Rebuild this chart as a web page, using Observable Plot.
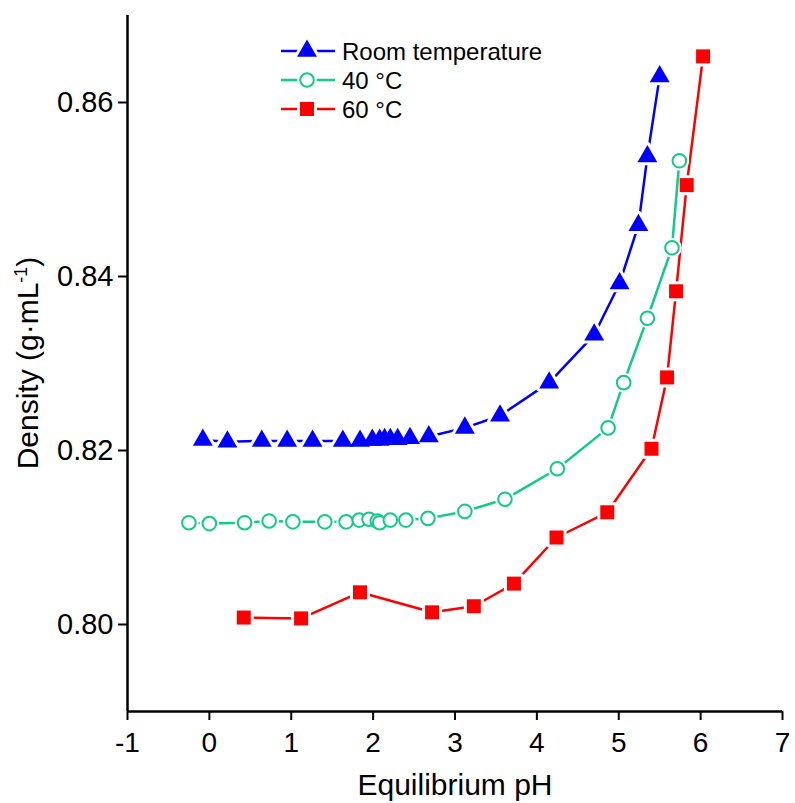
<!DOCTYPE html>
<html>
<head>
<meta charset="utf-8">
<script src="https://cdn.jsdelivr.net/npm/d3@7"></script>
<script src="https://cdn.jsdelivr.net/npm/@observablehq/plot@0.6"></script>
<style>
  html, body { margin: 0; padding: 0; background: #fff; }
  #chart svg { display: block; }
</style>
</head>
<body>
<div id="chart"></div>
<script>
// ---- Data ----
const seriesNames = ["Room temperature", "40 °C", "60 °C"];

const roomPH = [-0.08, 0.22, 0.64, 0.95, 1.26, 1.63, 1.84, 1.99, 2.08, 2.14, 2.21, 2.30, 2.45, 2.68, 3.12, 3.55, 4.15, 4.70, 5.01, 5.24, 5.35, 5.50];
const roomD  = [0.8212, 0.8210, 0.8211, 0.8211, 0.8211, 0.8211, 0.8211, 0.8212, 0.8212, 0.8213, 0.8213, 0.8213, 0.8214, 0.8216, 0.8226, 0.8240, 0.8278, 0.8333, 0.8392, 0.8459, 0.8538, 0.8630];

const c40PH = [-0.25, 0.00, 0.43, 0.73, 1.02, 1.41, 1.67, 1.83, 1.95, 2.05, 2.08, 2.21, 2.40, 2.67, 3.12, 3.61, 4.25, 4.87, 5.06, 5.35, 5.65, 5.74];
const c40D  = [0.8117, 0.8116, 0.8117, 0.8119, 0.8118, 0.8118, 0.8118, 0.8120, 0.8121, 0.8119, 0.8117, 0.8120, 0.8120, 0.8122, 0.8130, 0.8144, 0.8179, 0.8226, 0.8278, 0.8352, 0.8433, 0.8533];

const c60PH = [0.42, 1.12, 1.84, 2.72, 3.23, 3.72, 4.24, 4.86, 5.40, 5.59, 5.70, 5.83, 6.03];
const c60D  = [0.8008, 0.8007, 0.8037, 0.8014, 0.8021, 0.8047, 0.8100, 0.8129, 0.8202, 0.8284, 0.8383, 0.8505, 0.8653];

const xTicks = [-1, 0, 1, 2, 3, 4, 5, 6, 7];
const yTicks = [0.80, 0.82, 0.84, 0.86];
const xDomain = [-1, 7];
const yDomain = [0.79, 0.87];

// ---- Styling ----
const FONT = "'Liberation Sans', Arial, Helvetica, sans-serif";
const BLUE = "#0000ff", GREEN = "#10cc88", RED = "#ff0000";
const LINE_W = 2.5;

const toRows = (xs, ys) => xs.map((x, i) => ({pH: x, d: ys[i]}));
const room = toRows(roomPH, roomD);
const c40 = toRows(c40PH, c40D);
const c60 = toRows(c60PH, c60D);

const R_TRI = 7.4, R_CIR = 6.8, R_SQ = 7.9;

function seriesMarks(data, color, symbol, r, open) {
  return [
    Plot.line(data, {x: "pH", y: "d", stroke: color, strokeWidth: LINE_W}),
    Plot.dot(data, {x: "pH", y: "d", symbol, r, fill: "white", stroke: "white", strokeWidth: 6, strokeLinejoin: "round"}),
    open
      ? Plot.dot(data, {x: "pH", y: "d", symbol, r, fill: "white", stroke: color, strokeWidth: 2})
      : Plot.dot(data, {x: "pH", y: "d", symbol, r, fill: color, stroke: "none"})
  ];
}

const plot = Plot.plot({
  width: 795,
  height: 803,
  marginLeft: 127,
  marginRight: 13,
  marginTop: 15,
  marginBottom: 92,
  style: {fontFamily: FONT, background: "white", color: "black"},
  x: {domain: xDomain, label: null},
  y: {domain: yDomain, label: null},
  marks: [
    Plot.axisX({ticks: xTicks, tickFormat: d => String(d), tickSize: 9, tickPadding: 12, fontSize: 28, strokeWidth: 2, label: null}),
    Plot.axisY({ticks: yTicks, tickFormat: d3.format(".2f"), tickSize: 9, tickPadding: 5, fontSize: 29, strokeWidth: 2, label: null}),
    ...seriesMarks(c60, RED, "square", R_SQ, false),
    ...seriesMarks(c40, GREEN, "circle", R_CIR, true),
    ...seriesMarks(room, BLUE, "triangle", R_TRI, false),
    Plot.ruleX([xDomain[0]], {stroke: "black", strokeWidth: 2.5}),
    Plot.ruleY([yDomain[0]], {stroke: "black", strokeWidth: 2.5})
  ]
});

document.getElementById("chart").appendChild(plot);

// ---- Axis titles and legend ----
const svg = d3.select(plot);
const ys = plot.scale("y");
const yMid = (ys.range[0] + ys.range[1]) / 2;

svg.append("text")
  .attr("x", 455).attr("y", 795)
  .attr("text-anchor", "middle")
  .attr("font-family", FONT).attr("font-size", 30).attr("fill", "black")
  .text("Equilibrium pH");

const yl = svg.append("text")
  .attr("transform", `translate(38, ${yMid}) rotate(-90)`)
  .attr("text-anchor", "middle")
  .attr("font-family", FONT).attr("font-size", 30).attr("fill", "black");
yl.append("tspan").text("Density (g·mL");
yl.append("tspan").attr("dy", -11).attr("font-size", 18).text("-1");
yl.append("tspan").attr("dy", 11).text(")");

const legend = [
  {name: seriesNames[0], color: BLUE, sym: d3.symbolTriangle, r: R_TRI, open: false},
  {name: seriesNames[1], color: GREEN, sym: d3.symbolCircle, r: R_CIR, open: true},
  {name: seriesNames[2], color: RED, sym: d3.symbolSquare, r: R_SQ, open: false}
];
const lg = svg.append("g").attr("text-anchor", "start");
legend.forEach((item, i) => {
  const cy = 51 + i * 29;
  lg.append("line").attr("x1", 281).attr("x2", 335).attr("y1", cy).attr("y2", cy)
    .attr("stroke", item.color).attr("stroke-width", LINE_W);
  const path = d3.symbol(item.sym, Math.PI * item.r * item.r)();
  lg.append("path").attr("d", path).attr("transform", `translate(307,${cy})`)
    .attr("fill", "white").attr("stroke", "white").attr("stroke-width", 6).attr("stroke-linejoin", "round");
  lg.append("path").attr("d", path).attr("transform", `translate(307,${cy})`)
    .attr("fill", item.open ? "white" : item.color)
    .attr("stroke", item.open ? item.color : "none").attr("stroke-width", 2);
  lg.append("text").attr("x", 342).attr("y", cy + 8.5)
    .attr("text-anchor", "start")
    .attr("font-family", FONT).attr("font-size", 24).attr("fill", "black")
    .text(item.name);
});
</script>
</body>
</html>
